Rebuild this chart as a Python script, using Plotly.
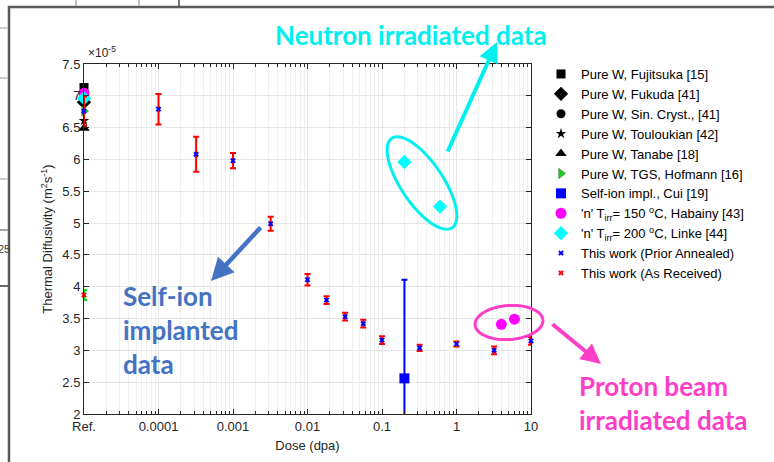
import numpy as np
import plotly.graph_objects as go

# ---------------- data ----------------
REF = 1e-5  # position used for the "Ref." column

fujitsuka_x = [REF]; fujitsuka_y = [7.13]
fukuda_x = [REF]; fukuda_y = [6.90]
sincryst_x = [REF]; sincryst_y = [6.90]
touloukian_x = [REF]; touloukian_y = [6.61]
tanabe_x = [REF]; tanabe_y = [6.49]
hofmann_x = [REF]; hofmann_y = [6.76]

cui_x = [0.2]; cui_y = [2.56]; cui_err = [1.55]

habainy_x = [REF, 4.0, 6.0]; habainy_y = [7.04, 3.41, 3.49]
linke_x = [REF, 0.2, 0.6]; linke_y = [6.96, 5.96, 5.26]

annealed_x = [REF, 1e-4, 3.2e-4, 1e-3, 3.2e-3, 0.01, 0.018, 0.032, 0.056, 0.1, 0.32, 1.0, 3.2, 10.0]
annealed_y = [6.76, 6.79, 6.08, 5.98, 4.99, 4.11, 3.79, 3.53, 3.42, 3.16, 3.04, 3.10, 3.00, 3.15]
annealed_err = [0.23, 0.24, 0.275, 0.12, 0.11, 0.09, 0.06, 0.06, 0.06, 0.06, 0.05, 0.04, 0.06, 0.06]

received_x = [REF]; received_y = [3.87]; received_err = [0.08]

x_tickvals = [1e-5, 1e-4, 1e-3, 1e-2, 1e-1, 1, 10]
x_ticktext = ["Ref.", "0.0001", "0.001", "0.01", "0.1", "1", "10"]
y_tickvals = [2, 2.5, 3, 3.5, 4, 4.5, 5, 5.5, 6, 6.5, 7, 7.5]
y_ticktext = ["2", "2.5", "3", "3.5", "4", "4.5", "5", "5.5", "6", "6.5", "7", "7.5"]

# ---------------- layout helpers ----------------
W, H = 774, 462
L, R, T, B = 84, 531, 64, 414
def px(x):
    return (x - L) / (R - L)
def py(y):
    return (B - y) / (B - T)

FONT = "Arial, Liberation Sans, sans-serif"
AX = "#262626"
GRID = "#E6E6E6"

fig = go.Figure()

def add(name, x, y, symbol, size, color, line_color=None, line_w=0, err=None, err_color=None):
    kw = {}
    if err is not None:
        kw["error_y"] = dict(type="data", array=err, visible=True, color=err_color,
                             thickness=2, width=3)
    fig.add_trace(go.Scatter(
        x=x, y=y, mode="markers", name=name,
        marker=dict(symbol=symbol, size=size, color=color,
                    line=dict(color=line_color or color, width=line_w)),
        cliponaxis=False, **kw))

add("Pure W, Fujitsuka [15]", fujitsuka_x, fujitsuka_y, "square", 9, "black")
add("Pure W, Fukuda [41]", fukuda_x, fukuda_y, "diamond", 11, "black")
add("Pure W, Sin. Cryst., [41]", sincryst_x, sincryst_y, "circle", 9, "black")
add("Pure W, Touloukian [42]", touloukian_x, touloukian_y, "star", 8, "black")
add("Pure W, Tanabe [18]", tanabe_x, tanabe_y, "triangle-up", 10, "black")
add("Pure W, TGS, Hofmann [16]", hofmann_x, hofmann_y, "triangle-right", 9, "#22CC22", "#226622", 0.5)
add("Self-ion impl., Cui [19]", cui_x, cui_y, "square", 10, "#0000FF", err=cui_err, err_color="#0000FF")
add("'n' T<sub>irr</sub>= 150 <sup>o</sup>C, Habainy [43]", habainy_x, habainy_y, "circle", 11, "#FF00FF")
add("'n' T<sub>irr</sub>= 200 <sup>o</sup>C, Linke [44]", linke_x, linke_y, "diamond", 11, "#00FFFF")
add("This work (Prior Annealed)", annealed_x, annealed_y, "x", 5, "#0000FF", err=annealed_err, err_color="#FF0000")
add("This work (As Received)", received_x, received_y, "x", 5, "#FF0000", err=received_err, err_color="#00DD00")

# ---------------- decorations ----------------
shapes = []
# outer slide frame artifacts
frame = "#5A5A5A"
shapes.append(dict(type="line", xref="paper", yref="paper", x0=px(9), x1=px(9), y0=py(6), y1=py(462),
                   line=dict(color=frame, width=2.5)))
shapes.append(dict(type="line", xref="paper", yref="paper", x0=px(8), x1=px(774), y0=py(7), y1=py(7),
                   line=dict(color=frame, width=2.5)))
for xx, c in [(76, "#AAAAAA"), (139, "#AAAAAA"), (179, "#444444")]:
    shapes.append(dict(type="line", xref="paper", yref="paper", x0=px(xx), x1=px(xx), y0=py(0), y1=py(6),
                       line=dict(color=c, width=1.5)))
for yy, c in [(28, "#BBBBBB"), (78, "#BBBBBB"), (179, "#BBBBBB"), (230, "#888888"), (286, "#333333")]:
    shapes.append(dict(type="line", xref="paper", yref="paper", x0=px(0), x1=px(8), y0=py(yy), y1=py(yy),
                       line=dict(color=c, width=1.5)))

def ellipse_path(cx, cy, a, b, ang_deg):
    t = np.linspace(0, 2 * np.pi, 73)
    ang = np.deg2rad(ang_deg)
    xs = cx + a * np.cos(t) * np.cos(ang) - b * np.sin(t) * np.sin(ang)
    ys = cy + a * np.cos(t) * np.sin(ang) + b * np.sin(t) * np.cos(ang)
    pts = [f"{px(x_):.5f},{py(y_):.5f}" for x_, y_ in zip(xs, ys)]
    return "M " + " L ".join(pts) + " Z"

CYAN = "#00F0F0"
PINK = "#FF3EC8"
BLUE = "#4472C4"
shapes.append(dict(type="path", xref="paper", yref="paper", path=ellipse_path(422, 183, 54, 21, 56),
                   line=dict(color=CYAN, width=3)))
shapes.append(dict(type="path", xref="paper", yref="paper", path=ellipse_path(509, 322.5, 34, 17, -4),
                   line=dict(color=PINK, width=3)))

annotations = []
annotations.append(dict(xref="paper", yref="paper", x=px(86), y=py(52), xanchor="left", yanchor="middle",
                        text="×10<sup>-5</sup>", showarrow=False, font=dict(family=FONT, size=12, color=AX)))
# arrows
def arrow(tail, head, color, width):
    return dict(xref="paper", yref="paper", x=px(head[0]), y=py(head[1]),
                axref="pixel", ayref="pixel", ax=tail[0] - head[0], ay=tail[1] - head[1],
                text="", showarrow=True, arrowhead=2, arrowsize=1.0, arrowwidth=width, arrowcolor=color)
annotations.append(arrow((447, 153), (497, 42), CYAN, 4))
annotations.append(arrow((262, 226), (211, 281), BLUE, 4.5))
annotations.append(arrow((551, 323), (601, 364), PINK, 4))

TXT = "Lato, Open Sans, sans-serif"
annotations.append(dict(xref="paper", yref="paper", x=px(411), y=py(35), xanchor="center", yanchor="middle",
                        text="<b>Neutron irradiated data</b>", showarrow=False,
                        font=dict(family=TXT, size=26, color=CYAN)))
annotations.append(dict(xref="paper", yref="paper", x=px(121), y=py(330), xanchor="left", yanchor="middle",
                        align="left", text="<b>Self-ion<br>implanted<br>data</b>", showarrow=False,
                        font=dict(family=TXT, size=26, color=BLUE)))
annotations.append(dict(xref="paper", yref="paper", x=px(577), y=py(403), xanchor="left", yanchor="middle",
                        align="left", text="<b>Proton beam<br>irradiated data</b>", showarrow=False,
                        font=dict(family=TXT, size=26, color=PINK)))
# stray text from neighbouring slide (cut at the left edge)
annotations.append(dict(xref="paper", yref="paper", x=px(-4), y=py(249), xanchor="left", yanchor="middle",
                        text="25", showarrow=False, font=dict(family=FONT, size=11, color="#444444")))

fig.update_layout(
    width=W, height=H,
    margin=dict(l=L, r=W - R, t=T, b=H - B, pad=0, autoexpand=False),
    paper_bgcolor="white", plot_bgcolor="white",
    font=dict(family=FONT, size=13, color=AX),
    showlegend=True,
    legend=dict(x=px(541), y=py(59), xanchor="left", yanchor="top",
                font=dict(family=FONT, size=13, color="black"),
                bgcolor="rgba(0,0,0,0)", itemwidth=30, tracegroupgap=0),
    xaxis=dict(type="log", range=[-5, 1], tickmode="array", tickvals=x_tickvals, ticktext=x_ticktext,
               showline=True, linecolor=AX, linewidth=1, mirror="ticks", ticks="inside", ticklen=5,
               tickcolor=AX, showgrid=True, gridcolor=GRID, gridwidth=1, zeroline=False, automargin=False,
               minor=dict(showgrid=True, gridcolor="#EFEFEF", ticks="inside", ticklen=3, tickcolor=AX,
                          dtick="D1"),
               title=dict(text="Dose (dpa)", font=dict(size=13, color=AX), standoff=8),
               tickfont=dict(size=13, color=AX)),
    yaxis=dict(range=[2, 7.5], tickmode="array", tickvals=y_tickvals, ticktext=y_ticktext,
               showline=True, linecolor=AX, linewidth=1, mirror="ticks", ticks="inside", ticklen=5,
               tickcolor=AX, showgrid=True, gridcolor=GRID, gridwidth=1, zeroline=False, automargin=False,
               title=dict(text="Thermal Diffusivity (m<sup>2</sup>s<sup>-1</sup>)", font=dict(size=13, color=AX),
                          standoff=6),
               tickfont=dict(size=13, color=AX)),
    shapes=shapes, annotations=annotations,
)

fig.write_html("out.html", config={"displayModeBar": False},
               post_script="document.body.style.margin='0';document.body.style.overflow='hidden';")
